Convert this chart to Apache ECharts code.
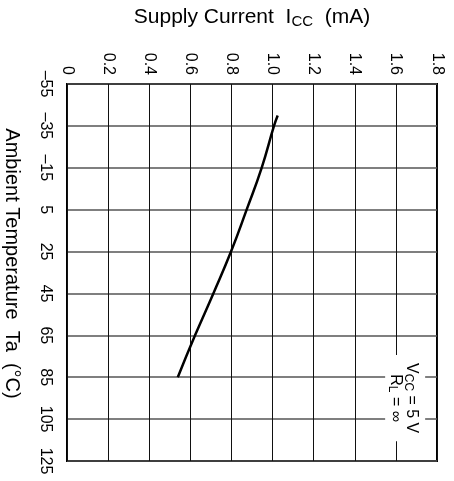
<!DOCTYPE html>
<html>
<head>
<meta charset="utf-8">
<script src="https://cdn.jsdelivr.net/npm/echarts@6/dist/echarts.min.js"></script>
<style>html,body{margin:0;padding:0;background:#fff;}#c{width:454px;height:481px;}</style>
</head>
<body>
<div id="c"></div>
<script>
var temperatures = [-40, -35, -15, 5, 25, 45, 65, 85];
var supplyCurrent = [1.025, 1.007, 0.947, 0.874, 0.798, 0.712, 0.623, 0.539];
var currentTicks = {min: 0, max: 1.8, interval: 0.2};
var tempTicks = {min: -55, max: 125, interval: 20};

var FONT = '"Liberation Sans", Arial, Helvetica, sans-serif';
var chart = echarts.init(document.getElementById('c'), null, {renderer: 'canvas'});
var seriesData = temperatures.map(function (t, i) { return [supplyCurrent[i], t]; });

chart.setOption({
  animation: false,
  backgroundColor: '#fff',
  grid: {left: 67, top: 84, width: 370, height: 377, show: true, borderColor: '#000', borderWidth: 2,
    containLabel: false, outerBoundsMode: 'none'},
  xAxis: {
    type: 'value', position: 'top',
    min: currentTicks.min, max: currentTicks.max, interval: currentTicks.interval,
    name: 'Supply Current  I{sub|CC}  (mA)',
    nameLocation: 'middle', nameGap: 55,
    nameTextStyle: {fontFamily: FONT, fontSize: 21, color: '#000',
      rich: {sub: {fontFamily: FONT, fontSize: 15, color: '#000', verticalAlign: 'bottom', padding: [8, 0, 0, 0]}}},
    axisLine: {show: false}, axisTick: {show: false},
    splitLine: {show: true, lineStyle: {color: '#111', width: 1}},
    axisLabel: {rotate: -90, margin: 9, fontFamily: FONT, fontSize: 16, color: '#000',
      formatter: function (v) { return v === 0 ? '0' : v.toFixed(1); }}
  },
  yAxis: {
    type: 'value', inverse: true,
    min: tempTicks.min, max: tempTicks.max, interval: tempTicks.interval,
    name: 'Ambient Temperature  Ta  (°C)',
    nameLocation: 'middle', nameRotate: -90, nameGap: 45,
    nameTextStyle: {fontFamily: FONT, fontSize: 20, color: '#000', padding: [0, 18, 0, 0]},
    axisLine: {show: false}, axisTick: {show: false},
    splitLine: {show: true, lineStyle: {color: '#555', width: 1.5}},
    axisLabel: {rotate: -90, margin: 14, fontFamily: FONT, fontSize: 16, color: '#000',
      formatter: function (v) { return String(v).replace('-', '–'); }}
  },
  series: [{
    type: 'line', data: seriesData, smooth: true, showSymbol: false,
    lineStyle: {color: '#000', width: 2.5}, z: 5
  }]
});

var p = chart.convertToPixel({gridIndex: 0}, [1.645, 95]);
chart.setOption({
  graphic: [{
    type: 'text', x: p[0], y: p[1], rotation: -Math.PI / 2, z: 10,
    style: {
      text: 'V{sub|CC} = 5 V\nR{sub|L} = ∞',
      fontFamily: FONT, fontSize: 16, fill: '#000', lineHeight: 16,
      align: 'center', verticalAlign: 'middle',
      backgroundColor: '#fff', padding: [6, 8, 2, 8],
      rich: {sub: {fontFamily: FONT, fontSize: 12, fill: '#000', padding: [6, 0, 0, 0]}}
    }
  }]
});
</script>
</body>
</html>
